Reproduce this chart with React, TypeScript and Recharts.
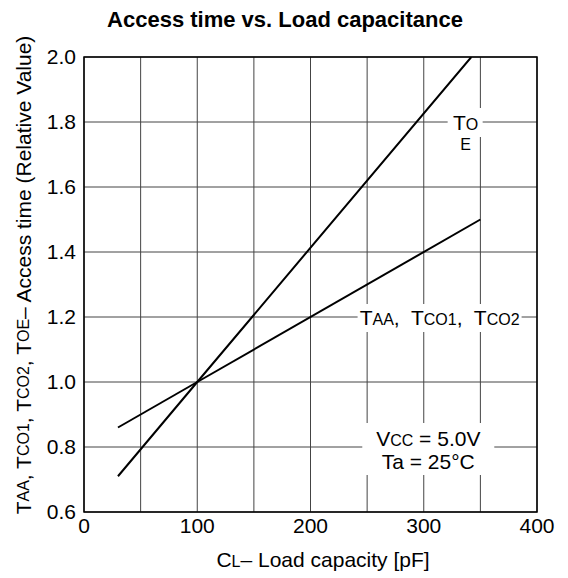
import React from 'react';
import {
  LineChart,
  Line,
  XAxis,
  YAxis,
  CartesianGrid,
  ReferenceArea,
  ReferenceDot,
  Label,
} from 'recharts';

// load capacity [pF] vs relative access time
const taaLoad = [30, 100, 350];
const taaTime = [0.86, 1.0, 1.5];
const toeLoad = [30, 100, 342];
const toeTime = [0.71, 1.0, 2.0];

const xTicks = [0, 100, 200, 300, 400];
const xGridLines = [0, 50, 100, 150, 200, 250, 300, 350, 400];
const yTicks = [0.6, 0.8, 1.0, 1.2, 1.4, 1.6, 1.8, 2.0];

const taaData = taaLoad.map((x, i) => ({ x, y: taaTime[i] }));
const toeData = toeLoad.map((x, i) => ({ x, y: toeTime[i] }));

const FONT = '"Liberation Sans", Arial, Helvetica, sans-serif';
const BIG = 21;
const SUB = 16;

function YTitle() {
  return (
    <text
      x={23}
      y={275}
      transform="rotate(-90 23 275)"
      textAnchor="middle"
      dominantBaseline="central"
      fontFamily={FONT}
      fontSize={BIG}
      fill="#000"
    >
      T<tspan fontSize={SUB}>AA</tspan>, T<tspan fontSize={SUB}>CO1</tspan>, T
      <tspan fontSize={SUB}>CO2</tspan>, T<tspan fontSize={SUB}>OE</tspan>– Access time (Relative Value)
    </text>
  );
}

function XTitle() {
  return (
    <text x={323} y={567} textAnchor="middle" fontFamily={FONT} fontSize={BIG} fill="#000">
      C<tspan fontSize={SUB}>L</tspan>– Load capacity [pF]
    </text>
  );
}

const toeLabel = (props: any) => {
  const { cx, cy } = props;
  return (
    <g>
      <rect x={cx - 18} y={cy - 14} width={35} height={29} fill="#fff" />
      <text x={cx} y={cy + 8} textAnchor="middle" fontFamily={FONT} fontSize={BIG} fill="#000">
        T<tspan fontSize={SUB}>O</tspan>
      </text>
      <text x={cx} y={cy + 28} textAnchor="middle" fontFamily={FONT} fontSize={SUB} fill="#000">
        E
      </text>
    </g>
  );
};

const taaLabel = (props: any) => {
  const { cx, cy } = props;
  return (
    <g>
      <rect x={cx - 82} y={cy - 13} width={164} height={28} fill="#fff" />
      <text
        x={cx}
        y={cy + 8}
        textAnchor="middle"
        fontFamily={FONT}
        fontSize={BIG}
        fill="#000"
        style={{ whiteSpace: 'pre' }}
      >
        T<tspan fontSize={SUB}>AA</tspan>
        {',  T'}
        <tspan fontSize={SUB}>CO1</tspan>
        {',  T'}
        <tspan fontSize={SUB}>CO2</tspan>
      </text>
    </g>
  );
};

const condLabel = (props: any) => {
  const { cx, cy } = props;
  return (
    <g>
      <rect x={cx - 66} y={cy - 24} width={132} height={52} fill="#fff" />
      <text x={cx} y={cy - 1} textAnchor="middle" fontFamily={FONT} fontSize={BIG} fill="#000">
        V<tspan fontSize={SUB}>CC</tspan> = 5.0V
      </text>
      <text x={cx} y={cy + 22} textAnchor="middle" fontFamily={FONT} fontSize={BIG} fill="#000">
        Ta = 25°C
      </text>
    </g>
  );
};

export default function App() {
  return (
    <div style={{ position: 'absolute', left: 0, top: 0, width: 568, height: 578, background: '#fff' }}>
      <div
        style={{
          position: 'absolute',
          left: 0,
          top: 7,
          width: 570,
          textAlign: 'center',
          fontFamily: FONT,
          fontWeight: 'bold',
          fontSize: 22,
          color: '#000',
        }}
      >
        Access time vs. Load capacitance
      </div>
      <LineChart width={568} height={578} margin={{ top: 57, right: 31, bottom: 26, left: 0 }}>
        <CartesianGrid stroke="#444" strokeWidth={1} verticalValues={xGridLines} />
        <XAxis
          type="number"
          dataKey="x"
          domain={[0, 400]}
          ticks={xTicks}
          allowDataOverflow
          height={40}
          axisLine={false}
          tickLine={false}
          tickSize={0}
          tickMargin={6}
          tick={{ fill: '#000', fontSize: BIG, fontFamily: FONT }}
        >
          <Label content={<XTitle />} />
        </XAxis>
        <YAxis
          type="number"
          dataKey="y"
          domain={[0.6, 2.0]}
          ticks={yTicks}
          allowDataOverflow
          width={84}
          axisLine={false}
          tickLine={false}
          tickSize={0}
          tickMargin={8}
          tickFormatter={(v: number) => v.toFixed(1)}
          tick={{ fill: '#000', fontSize: BIG, fontFamily: FONT }}
        >
          <Label content={<YTitle />} />
        </YAxis>
        <ReferenceArea x1={0} x2={400} y1={0.6} y2={2.0} fill="none" stroke="#000" strokeWidth={1.5} />
        <Line
          data={taaData}
          dataKey="y"
          type="linear"
          stroke="#000"
          strokeWidth={2}
          dot={false}
          isAnimationActive={false}
        />
        <Line
          data={toeData}
          dataKey="y"
          type="linear"
          stroke="#000"
          strokeWidth={2}
          dot={false}
          isAnimationActive={false}
        />
        <ReferenceDot x={337} y={1.8} r={0} shape={toeLabel} />
        <ReferenceDot x={314} y={1.2} r={0} shape={taaLabel} />
        <ReferenceDot x={304} y={0.8} r={0} shape={condLabel} />
      </LineChart>
    </div>
  );
}
